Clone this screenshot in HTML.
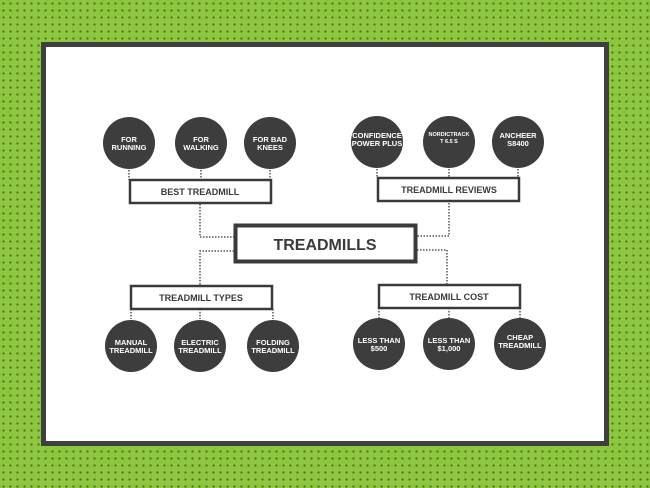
<!DOCTYPE html>
<html><head><style>
html,body{margin:0;padding:0;}
body{width:650px;height:488px;overflow:hidden;background-color:#8dc63f;
background-image:radial-gradient(circle,#4d6b22 0.9px,transparent 1.3px);background-size:7px 7px;}
svg{position:absolute;left:0;top:0;}
text{font-family:"Liberation Sans",sans-serif;font-weight:bold;text-anchor:middle;}
</style></head><body>
<svg width="650" height="488" viewBox="0 0 650 488">
<rect x="43.5" y="44.5" width="563" height="399" fill="#fff" stroke="#3f3f3f" stroke-width="5"/>
<g stroke="#555" stroke-width="1.5" stroke-dasharray="1.5 1.5" fill="none">
<path d="M200 204 V237 H234"/>
<path d="M449 203 V236 H417"/>
<path d="M417 250 H447 V285"/>
<path d="M234 251 H200 V286"/>
<path d="M129 170 V180 M201 170 V180 M270 170 V180"/>
<path d="M377 169 V178 M449 169 V178 M518 169 V178"/>
<path d="M131 309 V319 M200 309 V319 M273 309 V319"/>
<path d="M379 308 V318 M449 308 V318 M520 308 V318"/>
</g>
<g fill="#fff" stroke="#3a3a3a" stroke-width="2.5">
<rect x="130" y="180" width="141" height="23"/>
<rect x="378" y="178" width="141" height="23"/>
<rect x="131" y="286" width="141" height="23"/>
<rect x="379" y="285" width="141" height="23"/>
</g>
<rect x="235.5" y="225.5" width="180" height="36" fill="#fff" stroke="#3a3a3a" stroke-width="4"/>
<g fill="#3a3a3a" font-size="9">
<text x="200" y="195">BEST TREADMILL</text>
<text x="449" y="193">TREADMILL REVIEWS</text>
<text x="201" y="301">TREADMILL TYPES</text>
<text x="449" y="300">TREADMILL COST</text>
<text x="325" y="250" font-size="16">TREADMILLS</text>
</g>
<g fill="#3d3d3d">
<circle cx="129" cy="143" r="26"/><circle cx="201" cy="143" r="26"/><circle cx="270" cy="143" r="26"/>
<circle cx="377" cy="142" r="26"/><circle cx="449" cy="142" r="26"/><circle cx="518" cy="142" r="26"/>
<circle cx="131" cy="346" r="26"/><circle cx="200" cy="346" r="26"/><circle cx="273" cy="346" r="26"/>
<circle cx="379" cy="344" r="26"/><circle cx="449" cy="344" r="26"/><circle cx="520" cy="344" r="26"/>
</g>
<g fill="#fff" font-size="7.5">
<text x="129" y="142">FOR</text><text x="129" y="150">RUNNING</text>
<text x="201" y="142">FOR</text><text x="201" y="150">WALKING</text>
<text x="270" y="142">FOR BAD</text><text x="270" y="150">KNEES</text>
<text x="377" y="138">CONFIDENCE</text><text x="377" y="146">POWER PLUS</text>
<text x="449" y="136" font-size="5.5">NORDICTRACK</text><text x="449" y="143" font-size="5.5">T 6.5 S</text>
<text x="518" y="138">ANCHEER</text><text x="518" y="146">S8400</text>
<text x="131" y="345">MANUAL</text><text x="131" y="353">TREADMILL</text>
<text x="200" y="345">ELECTRIC</text><text x="200" y="353">TREADMILL</text>
<text x="273" y="345">FOLDING</text><text x="273" y="353">TREADMILL</text>
<text x="379" y="343">LESS THAN</text><text x="379" y="351">$500</text>
<text x="449" y="343">LESS THAN</text><text x="449" y="351">$1,000</text>
<text x="520" y="340">CHEAP</text><text x="520" y="348">TREADMILL</text>
</g>
</svg>
</body></html>
